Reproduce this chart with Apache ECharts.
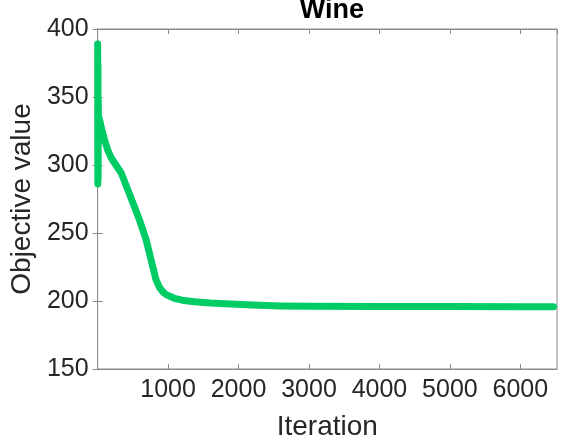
<!DOCTYPE html>
<html>
<head>
<meta charset="utf-8">
<script src="https://cdn.jsdelivr.net/npm/echarts@6/dist/echarts.min.js"></script>
<style>
  html, body { margin: 0; padding: 0; background: #fff; }
  #main { width: 562px; height: 446px; }
</style>
</head>
<body>
<div id="main"></div>
<script>
// data
var iterations = [1, 3, 5, 7, 9, 12, 28, 60, 99, 140, 194, 260, 335, 430, 523, 594, 689, 760, 830, 880, 925, 965, 1000, 1089, 1200, 1372, 1600, 1890, 2200, 2598, 3000, 4000, 5000, 6000, 6470];
var objective = [389, 286, 374, 290, 348, 336, 333, 326, 318.4, 311.5, 305.1, 300, 294.1, 281.6, 269.3, 259.6, 244.9, 230.1, 215.4, 209.8, 206.8, 205.0, 204.0, 202.0, 200.6, 199.5, 198.6, 197.8, 197.0, 196.4, 196.2, 196.0, 195.9, 195.8, 195.8];
var xTicks = [1000, 2000, 3000, 4000, 5000, 6000];
var yTicks = [150, 200, 250, 300, 350, 400];

var points = [];
for (var i = 0; i < iterations.length; i++) {
    points.push([iterations[i], objective[i]]);
}

var axisGrey = '#8a8a8a';
var textCol = '#262626';
var font = '"Liberation Sans", Arial, Helvetica, sans-serif';

var myChart = echarts.init(document.getElementById('main'));

var option = {
    animation: false,
    backgroundColor: '#fff',
    title: {
        text: 'Wine',
        left: 327,
        textAlign: 'center',
        top: -8,
        textStyle: { fontFamily: font, fontSize: 27, fontWeight: 'bold', color: '#000' }
    },
    grid: {
        left: 96,
        top: 29,
        right: 5,
        bottom: 77,
        show: true,
        borderColor: axisGrey,
        borderWidth: 1
    },
    xAxis: [
        {
            type: 'value',
            min: 0,
            max: 6520,
            interval: 1000,
            name: 'Iteration',
            nameLocation: 'middle',
            nameGap: 44,
            nameTextStyle: { fontFamily: font, fontSize: 28, color: textCol },
            axisLine: { lineStyle: { color: axisGrey } },
            axisTick: { inside: true, length: 5, lineStyle: { color: axisGrey } },
            splitLine: { show: false },
            axisLabel: {
                fontFamily: font, fontSize: 25, color: textCol, margin: 9,
                showMaxLabel: false,
                formatter: function (v) { return xTicks.indexOf(v) >= 0 ? String(v) : ''; }
            }
        },
        {
            type: 'value',
            position: 'top',
            min: 0,
            max: 6520,
            interval: 1000,
            axisLine: { lineStyle: { color: axisGrey } },
            axisTick: { inside: true, length: 5, lineStyle: { color: axisGrey } },
            axisLabel: { show: false },
            splitLine: { show: false }
        }
    ],
    yAxis: [
        {
            type: 'value',
            min: 150,
            max: 400,
            interval: 50,
            name: 'Objective value',
            nameLocation: 'middle',
            nameGap: 57,
            nameTextStyle: { fontFamily: font, fontSize: 28, color: textCol },
            axisLine: { show: true, lineStyle: { color: axisGrey } },
            axisTick: { show: true, inside: true, length: 5, lineStyle: { color: axisGrey } },
            splitLine: { show: false },
            axisLabel: {
                fontFamily: font, fontSize: 25, color: textCol, margin: 9,
                formatter: function (v) { return yTicks.indexOf(v) >= 0 ? String(v) : ''; }
            }
        },
        {
            type: 'value',
            position: 'right',
            min: 150,
            max: 400,
            interval: 50,
            axisLine: { show: true, lineStyle: { color: axisGrey } },
            axisTick: { show: true, inside: true, length: 5, lineStyle: { color: axisGrey } },
            axisLabel: { show: false },
            splitLine: { show: false }
        }
    ],
    series: [
        {
            name: 'Objective',
            type: 'line',
            xAxisIndex: 0,
            yAxisIndex: 0,
            showSymbol: false,
            symbol: 'none',
            smooth: false,
            lineStyle: { color: '#00cc66', width: 7, cap: 'round', join: 'round' },
            data: points
        }
    ]
};

myChart.setOption(option, true);
</script>
</body>
</html>
